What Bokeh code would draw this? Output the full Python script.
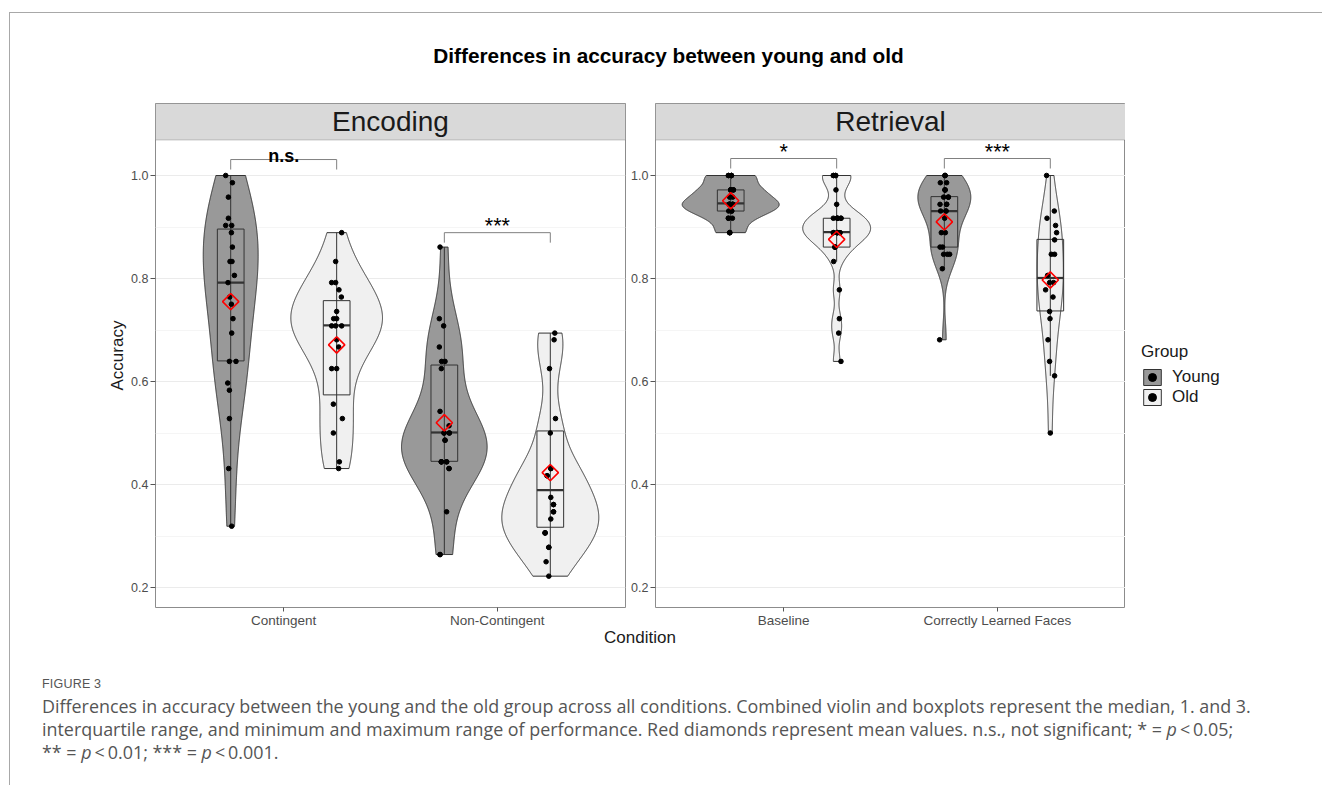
import numpy as np
from bokeh.plotting import figure
from bokeh.models import (Range1d, FixedTicker, BoxAnnotation, Label, Legend,
                          LegendItem, Div, NumeralTickFormatter)
from bokeh.layouts import column, row
from bokeh.embed import file_html
from bokeh.resources import INLINE
from bokeh.core.properties import value

FONT = "Liberation Sans"
CAP_FONT = "Open Sans"

# ---------------- data ----------------
title_text = "Differences in accuracy between young and old"
panel_names = ["Encoding", "Retrieval"]
enc_conditions = ["Contingent", "Non-Contingent"]
ret_conditions = ["Baseline", "Correctly Learned Faces"]
group_names = ["Young", "Old"]
legend_title = "Group"
x_title = "Condition"
y_title = "Accuracy"

# individual accuracies
enc_cont_young = [1.000, 0.986, 0.958, 0.917, 0.903, 0.903, 0.889, 0.861, 0.833, 0.833, 0.806, 0.792,
                  0.764, 0.750, 0.722, 0.694, 0.639, 0.639, 0.597, 0.583, 0.528, 0.431, 0.319]
enc_cont_old = [0.889, 0.833, 0.792, 0.792, 0.778, 0.764, 0.736, 0.722, 0.722, 0.708, 0.708, 0.708,
                0.681, 0.667, 0.625, 0.625, 0.556, 0.528, 0.500, 0.444, 0.431]
enc_noncont_young = [0.861, 0.722, 0.708, 0.667, 0.639, 0.639, 0.625, 0.542, 0.514, 0.500, 0.500, 0.486,
                     0.444, 0.444, 0.444, 0.444, 0.431, 0.431, 0.347, 0.264, 0.264,
                     0.500, 0.486, 0.444, 0.500]
enc_noncont_old = [0.694, 0.681, 0.625, 0.528, 0.431, 0.417, 0.361, 0.347, 0.306, 0.278, 0.250, 0.222,
                   0.306, 0.347, 0.361, 0.417, 0.431, 0.500, 0.278, 0.306, 0.333, 0.375]
ret_base_young = [1.000, 1.000, 1.000, 0.972, 0.972, 0.972, 0.972, 0.972, 0.958, 0.958,
                  0.944, 0.944, 0.944, 0.944, 0.944, 0.944, 0.944, 0.931, 0.931, 0.931, 0.917, 0.917, 0.889,
                  0.889, 0.889, 0.917, 1.000, 1.000]
ret_base_old = [1.000, 1.000, 0.972, 0.944, 0.917, 0.917, 0.917, 0.917, 0.889, 0.889, 0.889, 0.889, 0.889,
                0.861, 0.861, 0.833, 0.778, 0.722, 0.694, 0.639,
                1.000, 1.000, 0.917, 0.917, 0.889, 0.889, 0.861]
ret_learn_young = [1.000, 1.000, 0.986, 0.986, 0.972, 0.972, 0.958, 0.958, 0.944, 0.944, 0.931, 0.931,
                   0.917, 0.889, 0.889, 0.861, 0.861, 0.847, 0.847, 0.847, 0.819, 0.681,
                   1.000, 0.972, 0.958, 0.944, 0.931]
ret_learn_old = [1.000, 0.931, 0.917, 0.903, 0.889, 0.875, 0.847, 0.847, 0.806, 0.792, 0.792, 0.778,
                 0.764, 0.736, 0.722, 0.681, 0.639, 0.611, 0.500]

# horizontal jitter of each point (pixels)
enc_cont_young_jit = [-5, 1.7, -2.3, -2.3, -5, 1, 0.7, 1.7, -0.7, 1.3, 3.7, -2.7, -1, 0.7, 2.3, 1,
                      -1.3, 5.3, -3, -1.3, -1.3, -2, 1]
enc_cont_old_jit = [5, -1, -5, -1, 2.3, 4.7, 0, -3, 0, -5, -1, 5, 0, 2, -5, 0, -3.3, 5.7, -3.3, 2.7, 2]
enc_noncont_young_jit = [-4.3, -5, -0.7, -5, -2.7, 0.7, -3, -4.3, 4.7, -0.3, 5, 0.7, -3, 2.3, -3, 2.3,
                         4.7, 4.7, 2.3, -4.3, -4.3, -0.3, 0.7, -3, 5]
enc_noncont_old_jit = [4.5, 3.8, -0.8, 5.2, 0.5, -3.2, 3.2, 3.2, -5.2, -1.5, -4.2, -1.5,
                       -5.2, 3.2, 3.2, -3.2, 0.5, 0, -1.5, -5.2, 0.5, 0.5]
ret_base_young_jit = [-2.3, 0.7, 0.7, 0, 2.7, 0, 2.7, 0, -1, 2, -1.3, 2, -1.3, 2, -1.3, 2, -1.3,
                      -2, 1, 1, -2.3, 1.7, -1, -1, -1, -2.3, 0.7, -2.3]
ret_base_old_jit = [-3.3, -1, -0.7, 0, -3.3, 0.7, 4.3, 0.7, -3.3, 0.7, 3.3, 0.7, -3.3, -1.7, -1.7, -3,
                    2.7, 2.7, 2, 4.3, -3.3, -1, 0.7, 4.3, 3.3, 0.7, -1.7]
ret_learn_young_jit = [0.7, 0.7, -4, 2.3, 0.7, 0.7, -0.7, 4, -4.3, 2.3, -3.7, 1.7, 0.3, -3, 1, -4.3,
                       -1.7, -0.7, 3, 5.3, -2, -4.7, 0.7, 0.7, 4, 2.3, 1.7]
ret_learn_old_jit = [-3.7, 4, -3.3, 5.3, 6.3, 4.3, 1, 4.3, -2.7, -0.7, 3.3, -4.7, 2.7, -0.7, -0.3,
                     -2.3, -0.7, 4.3, 0]

# box statistics: q1, median, q3, lower whisker, upper whisker, mean
enc_cont_young_box = [0.640, 0.792, 0.896, 0.319, 1.000, 0.755]
enc_cont_old_box = [0.574, 0.709, 0.757, 0.431, 0.889, 0.671]
enc_noncont_young_box = [0.445, 0.501, 0.632, 0.264, 0.861, 0.520]
enc_noncont_old_box = [0.317, 0.389, 0.504, 0.222, 0.694, 0.423]
ret_base_young_box = [0.931, 0.946, 0.972, 0.889, 1.000, 0.951]
ret_base_old_box = [0.861, 0.890, 0.917, 0.833, 1.000, 0.876]
ret_learn_young_box = [0.861, 0.931, 0.959, 0.820, 1.000, 0.910]
ret_learn_old_box = [0.737, 0.801, 0.876, 0.611, 1.000, 0.797]

enc_sig = ["n.s.", "***"]
ret_sig = ["*", "***"]

caption_head = "FIGURE 3"
caption_lines = [
    "Differences in accuracy between the young and the old group across all conditions. Combined violin and boxplots represent the median, 1. and 3.",
    "interquartile range, and minimum and maximum range of performance. Red diamonds represent mean values. n.s., not significant; * = <i>p</i>&thinsp;&lt;&thinsp;0.05;",
    "** = <i>p</i>&thinsp;&lt;&thinsp;0.01; *** = <i>p</i>&thinsp;&lt;&thinsp;0.001.",
]

# ---------------- layout / style constants ----------------
Y0 = 0.2 - 20 / 515
Y1 = 1.0 + 72 / 515
STRIP = 1.0 + 35.5 / 515
PX = 470 / 2.2
DODGE = 0.248
HALF = 0.227
BOXW = 0.125
YOUNG_FILL = "#999999"
OLD_FILL = "#f0f0f0"
LINE = "#333333"
SIG_Y = {"Encoding": [1.031, 0.889], "Retrieval": [1.033, 1.033]}
FIG_H = 536


def nrd0(x):
    x = np.asarray(x, float)
    sd = np.std(x, ddof=1)
    q75, q25 = np.percentile(x, [75, 25])
    lo = min(sd, (q75 - q25) / 1.34)
    if lo <= 0:
        lo = sd if sd > 0 else 1.0
    return 0.9 * lo * len(x) ** -0.2


def kde(x):
    x = np.asarray(x, float)
    bw = nrd0(x)
    grid = np.linspace(x.min(), x.max(), 512)
    d = np.exp(-0.5 * ((grid[:, None] - x[None, :]) / bw) ** 2).sum(1) / (len(x) * bw * np.sqrt(2 * np.pi))
    return grid, d


def make_panel(name, conds, vals, jits, boxes, sigs, width, mbl, mbr, ylabel):
    p = figure(width=width, height=FIG_H, x_range=Range1d(0.4, 2.6), y_range=Range1d(Y0, Y1),
               output_backend="svg", toolbar_location=None, min_border_left=mbl,
               min_border_right=mbr, min_border_top=8, min_border_bottom=24)
    p.outline_line_color = "#8c8c8c"
    p.outline_line_width = 1
    p.background_fill_color = "white"
    p.border_fill_color = "white"

    p.xaxis.ticker = FixedTicker(ticks=[1, 2])
    p.xaxis.major_label_overrides = {1: conds[0], 2: conds[1]}
    p.yaxis.ticker = FixedTicker(ticks=[0.2, 0.4, 0.6, 0.8, 1.0], minor_ticks=[0.3, 0.5, 0.7, 0.9])
    p.yaxis.formatter = NumeralTickFormatter(format="0.0")
    for ax in (p.xaxis[0], p.yaxis[0]):
        ax.axis_line_color = None
        ax.major_tick_line_color = "#555555"
        ax.minor_tick_line_color = None
        ax.major_tick_in = 0
        ax.major_label_text_font = FONT
        ax.major_label_text_color = "#4d4d4d"
    p.xaxis.major_tick_out = 4
    p.xaxis.major_label_standoff = 1
    p.xaxis.major_label_text_font_size = "13.5px"
    p.yaxis.major_tick_out = 5
    p.yaxis.major_label_standoff = 2
    p.yaxis.major_label_text_font_size = "12.5px"
    if ylabel:
        p.yaxis.axis_label = ylabel
        p.yaxis.axis_label_text_font = FONT
        p.yaxis.axis_label_text_font_style = "normal"
        p.yaxis.axis_label_text_font_size = "17px"
        p.yaxis.axis_label_text_color = "#1a1a1a"
        p.yaxis.axis_label_standoff = 1
    p.xgrid.visible = False
    p.ygrid.grid_line_color = "#ebebeb"
    p.ygrid.grid_line_width = 1
    p.ygrid.minor_grid_line_color = "#f5f5f5"
    p.ygrid.minor_grid_line_width = 1

    # violins (Gaussian KDE, trimmed, scaled by the panel's largest density)
    dens = []
    for ci in range(2):
        for gi in range(2):
            dens.append(kde(vals[ci][gi]))
    dmax = max(d.max() for _, d in dens)
    xs = {0: [], 1: []}
    ys = {0: [], 1: []}
    k = 0
    for ci in range(2):
        for gi in range(2):
            grid, d = dens[k]
            k += 1
            c = ci + 1 + (-DODGE if gi == 0 else DODGE)
            hw = HALF * d / dmax
            xs[gi].append(np.concatenate([c - hw, (c + hw)[::-1]]))
            ys[gi].append(np.concatenate([grid, grid[::-1]]))
    rv = []
    for gi, fill in ((0, YOUNG_FILL), (1, OLD_FILL)):
        rv.append(p.patches(xs=xs[gi], ys=ys[gi], fill_color=fill, line_color=LINE, line_width=1))

    # boxes
    centers, q1, med, q3, lo, hi, mean = [], [], [], [], [], [], []
    for ci in range(2):
        for gi in range(2):
            b = boxes[ci][gi]
            centers.append(ci + 1 + (-DODGE if gi == 0 else DODGE))
            q1.append(b[0]); med.append(b[1]); q3.append(b[2])
            lo.append(b[3]); hi.append(b[4]); mean.append(b[5])
    centers = np.array(centers)
    p.quad(left=centers - BOXW / 2, right=centers + BOXW / 2, bottom=q1, top=q3,
           fill_alpha=0, line_color=LINE, line_width=1)
    p.segment(x0=centers, y0=lo, x1=centers, y1=hi, line_color=LINE, line_width=1)
    p.segment(x0=centers - BOXW / 2, y0=med, x1=centers + BOXW / 2, y1=med, line_color=LINE, line_width=2.2)

    # points
    rp = []
    for gi in range(2):
        px, py = [], []
        for ci in range(2):
            c = ci + 1 + (-DODGE if gi == 0 else DODGE)
            px += list(c + np.array(jits[ci][gi]) / PX)
            py += list(vals[ci][gi])
        rp.append(p.scatter(px, py, size=4.6, color="black"))

    # means
    p.scatter(centers, mean, marker="square", angle=np.pi / 4, size=11.5, fill_color=None,
              line_color="red", line_width=1.6)

    # significance brackets
    ys_sig = SIG_Y[name]
    x0s = [ci + 1 - DODGE for ci in range(2)]
    x1s = [ci + 1 + DODGE for ci in range(2)]
    tick = 10 / 515
    p.segment(x0=x0s, y0=ys_sig, x1=x1s, y1=ys_sig, line_color="#808080", line_width=1)
    p.segment(x0=x0s, y0=ys_sig, x1=x0s, y1=[y - tick for y in ys_sig], line_color="#808080", line_width=1)
    p.segment(x0=x1s, y0=ys_sig, x1=x1s, y1=[y - tick for y in ys_sig], line_color="#808080", line_width=1)
    for ci, s in enumerate(sigs):
        bold = s == "n.s."
        p.text(x=[ci + 1], y=[ys_sig[ci] + (4 if bold else 7) / 515], text=[s], text_font=value(FONT),
               text_font_size="18px" if bold else "21.5px",
               text_font_style="bold" if bold else "normal",
               text_align="center", text_baseline="alphabetic", text_color="black")

    # facet strip
    p.add_layout(BoxAnnotation(bottom=STRIP, fill_color="#d9d9d9", fill_alpha=1,
                               line_color="#555555", line_width=1))
    p.add_layout(Label(x=1.5, y=(STRIP + Y1) / 2, text=name, text_align="center",
                       text_baseline="middle", text_font=FONT, text_font_size="28px",
                       text_color="#1a1a1a"))
    return p, rv, rp


p1, _, _ = make_panel(
    panel_names[0], enc_conditions,
    [[enc_cont_young, enc_cont_old], [enc_noncont_young, enc_noncont_old]],
    [[enc_cont_young_jit, enc_cont_old_jit], [enc_noncont_young_jit, enc_noncont_old_jit]],
    [[enc_cont_young_box, enc_cont_old_box], [enc_noncont_young_box, enc_noncont_old_box]],
    enc_sig, 618, 145, 3, y_title)

p2, rv2, rp2 = make_panel(
    panel_names[1], ret_conditions,
    [[ret_base_young, ret_base_old], [ret_learn_young, ret_learn_old]],
    [[ret_base_young_jit, ret_base_old_jit], [ret_learn_young_jit, ret_learn_old_jit]],
    [[ret_base_young_box, ret_base_old_box], [ret_learn_young_box, ret_learn_old_box]],
    ret_sig, 497, 27, 0, None)

# legend panel: hidden copies of the Retrieval renderers (sharing their data) feed the legend keys
p3 = figure(width=189, height=FIG_H, x_range=Range1d(0, 1), y_range=Range1d(0, 1),
            output_backend="svg", toolbar_location=None, x_axis_type=None, y_axis_type=None,
            min_border_left=0, min_border_right=0, min_border_top=0, min_border_bottom=0)
p3.outline_line_color = None
p3.xgrid.visible = False
p3.ygrid.visible = False
key_items = []
for gi, (gname, fill) in enumerate(zip(group_names, (YOUNG_FILL, OLD_FILL))):
    kv = p3.patches(xs="xs", ys="ys", source=rv2[gi].data_source, fill_color=fill,
                    line_color=LINE, line_width=1, visible=False)
    kp = p3.scatter(x="x", y="y", source=rp2[gi].data_source, size=4.6, color="black", visible=False)
    key_items.append(LegendItem(label=gname, renderers=[kv, kp]))
legend = Legend(items=key_items, title=legend_title, location=(16, 200))
legend.title_text_font = FONT
legend.title_text_font_size = "17px"
legend.title_text_font_style = "normal"
legend.title_text_color = "#1a1a1a"
legend.label_text_font = FONT
legend.label_text_font_size = "17px"
legend.label_text_color = "#1a1a1a"
legend.glyph_width = 22
legend.glyph_height = 20
legend.label_standoff = 9
legend.spacing = 0
legend.padding = 10
legend.margin = 0
legend.title_standoff = 5
legend.border_line_color = None
legend.background_fill_alpha = 0
legend.inactive_fill_alpha = 0
p3.add_layout(legend)

# ---------------- page assembly ----------------
title_div = Div(text=f'<div style="margin-left:13px;width:1291px;text-align:center;padding-top:32px;'
                     f'font-family:\'{FONT}\';font-weight:bold;font-size:20.8px;line-height:22px;color:#000;">'
                     f'{title_text}</div>', width=1304, height=82, margin=0)
cond_div = Div(text=f'<div style="width:1260px;text-align:center;font-family:\'{FONT}\';'
                    f'font-size:17px;line-height:10px;color:#1a1a1a;">{x_title}</div>',
               width=1304, height=19, margin=0)
cap_html = (f'<div style="padding-left:32px;padding-top:26px;font-family:\'{CAP_FONT}\';color:#555;">'
            f'<div style="font-family:\'{FONT}\';font-size:12.5px;line-height:16px;letter-spacing:0.2px;">{caption_head}</div>'
            f'<div style="font-size:17.9px;line-height:23px;margin-top:3px;white-space:nowrap;">'
            + "<br>".join(caption_lines) + '</div></div>')
cap_div = Div(text=cap_html, width=1304, height=127, margin=0)

content = column(title_div, row(p1, p2, p3), cond_div, cap_div)
top_gap = Div(text="", width=1322, height=12, margin=0)
hline_pad = Div(text="", width=9, height=1, margin=0)
hline = Div(text="", width=1313, height=1, margin=0, styles={"background-color": "#a8a8a8"})
lpad = Div(text="", width=9, height=772, margin=0)
vline = Div(text="", width=1, height=772, margin=0, styles={"background-color": "#a8a8a8"})
root = column(top_gap, row(hline_pad, hline), row(lpad, vline, content))

open("out.html", "w").write(file_html(root, INLINE, title="Differences in accuracy"))
